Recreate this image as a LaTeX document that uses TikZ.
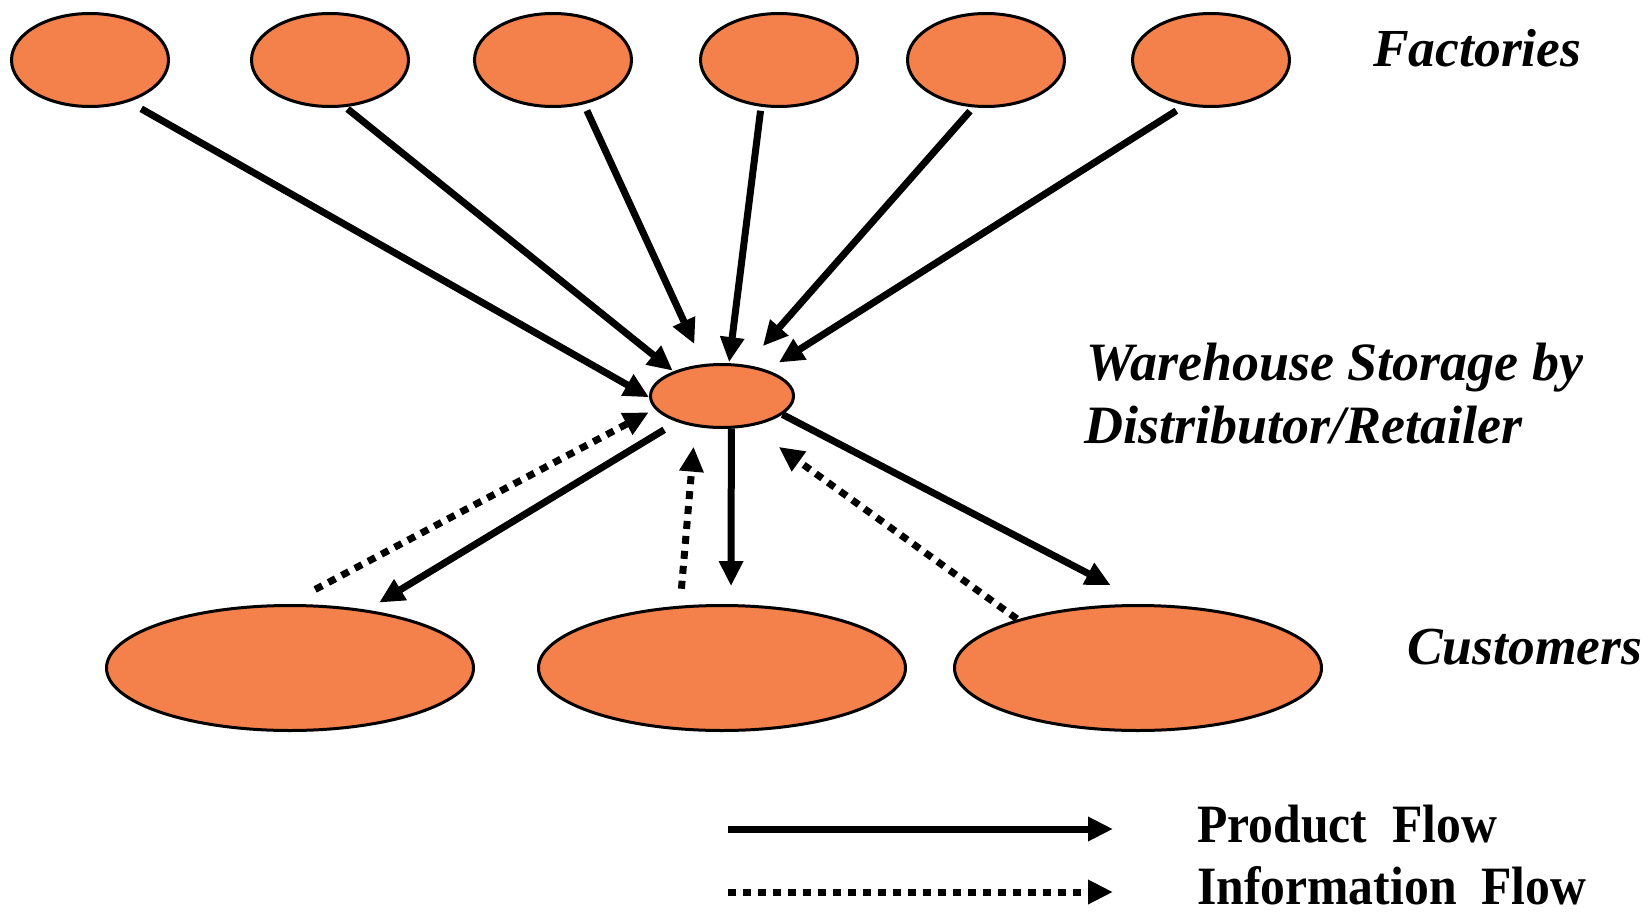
\documentclass[tikz,border=0pt]{standalone}
\usepackage{fontspec}
\setmainfont{Liberation Serif}
\usetikzlibrary{shapes.geometric,arrows.meta}
\definecolor{nodeorange}{RGB}{244,128,75}
\begin{document}
\begin{tikzpicture}[x=1pt,y=-1pt,
  site/.style={ellipse,draw=black,line width=3pt,fill=nodeorange,inner sep=0pt},
  factory/.style={site,minimum width=157pt,minimum height=93pt},
  store/.style={site,minimum width=143pt,minimum height=63pt},
  customer/.style={site,minimum width=367pt,minimum height=125pt},
  flow/.style={line width=7pt,-{Triangle[length=25pt,width=23pt]}},
  info/.style={flow,dash pattern=on 8pt off 7pt},
  lbl/.style={font=\fontsize{53.5pt}{60pt}\selectfont\bfseries\itshape,inner sep=0pt,anchor=base west},
  bigl/.style={lbl,font=\fontsize{54pt}{60pt}\selectfont\bfseries\itshape},
  legendlbl/.style={font=\fontsize{54pt}{60pt}\selectfont\bfseries,inner sep=0pt,anchor=base west}]
\useasboundingbox (0,0) rectangle (1650,913);
% factories
\node[factory] (f1) at (90,60) {};
\node[factory] (f2) at (330,60) {};
\node[factory] (f3) at (553,60) {};
\node[factory] (f4) at (779,60) {};
\node[factory] (f5) at (986,60) {};
\node[factory] (f6) at (1211,60) {};
% warehouse
\node[store] (w) at (722,396) {};
% customers
\node[customer] (c1) at (290,668) {};
\node[customer] (c2) at (722,668) {};
\node[customer] (c3) at (1138,668) {};
% labels
\node[lbl] (tf) at (1373,66) {Factories};
\node[bigl] (tw1) at (1086,380) {Warehouse Storage by};
\node[bigl] (tw2) at (1084,443) {Distributor/Retailer};
\node[lbl] (tc) at (1407,664) {Customers};
\node[legendlbl] (lp) at (1197,842) {\scalebox{0.92}[1]{Product\ \ Flow}};
\node[legendlbl] (li) at (1197,904) {\scalebox{0.92}[1]{Information\ \ Flow}};
% product flow from factories
\draw[flow,shorten <=14pt] (f1.-47) -- (w.181);
\draw[flow,shorten <=3pt,shorten >=1pt] (f2.-72) -- (w.153);
\draw[flow,shorten <=7pt,shorten >=22pt] (f3.-55) -- (w.120);
\draw[flow,shorten <=4pt,shorten >=1pt] (f4.-111) -- (w.78);
\draw[flow,shorten <=5pt,shorten >=25pt] (f5.-105) -- (w.52);
\draw[flow,shorten <=10pt,shorten >=14pt] (f6.-120) -- (w.30);
% warehouse <-> customers
\draw[flow,shorten <=15pt,shorten >=14pt] (w.210) -- (c1.37);
\draw[info,shorten <=31pt,shorten >=7pt] (c1.92) -- (w.191);
\draw[info,shorten <=17pt,shorten >=20pt] (c2.124) -- (w.229);
\draw[flow,shorten >=18pt] (w.-74) -- (c2.82);
\draw[info,shorten <=1pt,shorten >=35pt] (c3.158) -- (w.-47);
\draw[flow,shorten >=41pt] (w.-17) -- (c3.82);
% legend
\coordinate (lsA) at (728,829);
\coordinate (lsB) at (1113,829);
\coordinate (ldA) at (728,892);
\coordinate (ldB) at (1113,892);
\draw[flow] (lsA) -- (lsB);
\draw[info] (ldA) -- (ldB);
\end{tikzpicture}
\end{document}
